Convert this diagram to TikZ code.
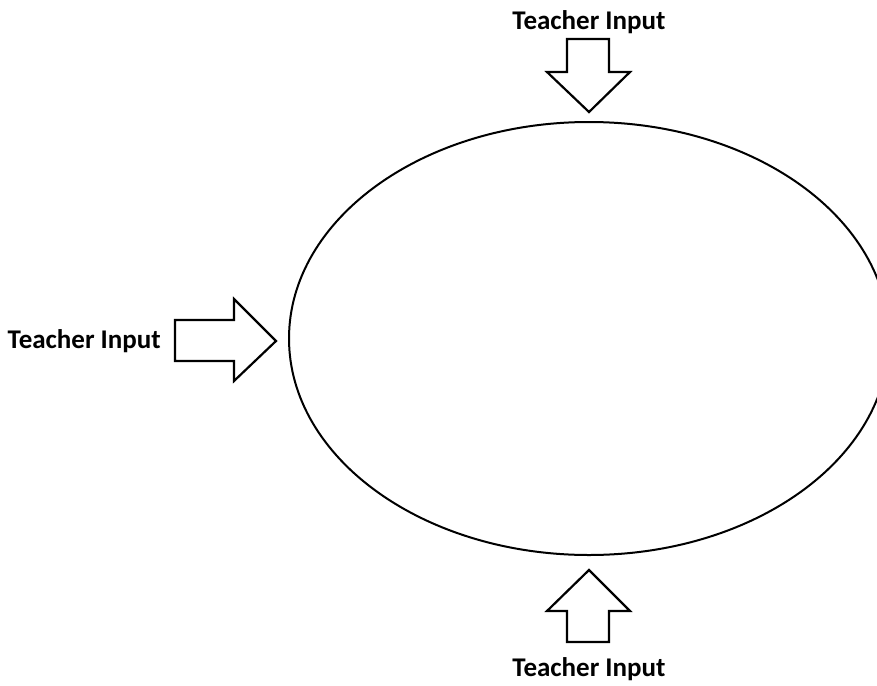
\documentclass[tikz,border=0pt]{standalone}
\usepackage{fontspec}
\setmainfont{Carlito}
\usetikzlibrary{calc}
\tikzset{
  pfeil/.style={draw=black,fill=white,line width=2.2pt,line join=miter},
  kreis/.style={draw=black,line width=2pt},
  beschr/.style={font=\fontsize{27}{30}\selectfont\bfseries,inner sep=0pt},
}

\begin{document}
\begin{tikzpicture}[x=1pt,y=-1pt]
  \useasboundingbox (0,0) rectangle (877,685);
  \begin{scope}
    \clip (0,0) rectangle (877,685);
    \draw[kreis] (589,338.5) ellipse [x radius=300,y radius=216.5];
  \end{scope}
  % Pfeile
  \draw[pfeil] (567,39)--(609,39)--(609,72)--(630,72)--(589,112)--(547,72)--(567,72)--cycle;
  \draw[pfeil] (175,320)--(234,320)--(234,299)--(276,341)--(234,381)--(234,361)--(175,361)--cycle;
  \draw[pfeil] (589,570)--(630,611)--(609,611)--(609,642)--(567,642)--(567,611)--(547,611)--cycle;
  % Beschriftungen
  \node[beschr] (oben) at (589,22) {Teacher Input};
  \node[beschr,anchor=east] (links) at (161,341) {Teacher Input};
  \node[beschr] (unten) at (589,669) {Teacher Input};
\end{tikzpicture}
\end{document}
